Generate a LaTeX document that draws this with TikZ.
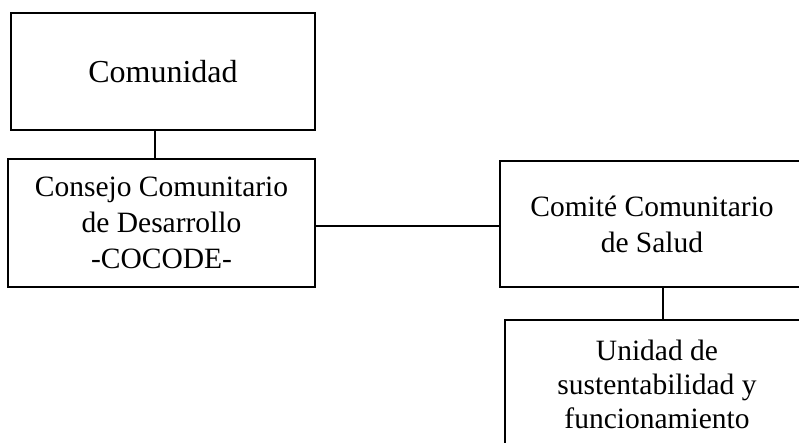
\documentclass[tikz,border=0pt]{standalone}
\usepackage{fontspec}
\setmainfont{Liberation Serif}
\begin{document}
\begin{tikzpicture}[x=1pt,y=-1pt,
  orgbox/.style={draw=black, line width=1.8pt, rectangle, inner sep=0pt, align=center,
    font=\fontsize{29.5}{36}\selectfont},
  link/.style={draw=black, line width=1.8pt}]
\useasboundingbox (0,0) rectangle (799,443);
\clip (0,0) rectangle (799,443);
\node[orgbox, minimum width=304pt, minimum height=117pt, font=\fontsize{32}{38}\selectfont] (comunidad) at (163,71.5) {Comunidad};
\node[orgbox, minimum width=307pt, minimum height=128pt] (consejo) at (161.5,223) {Consejo Comunitario\\de Desarrollo\\-COCODE-};
\node[orgbox, minimum width=304pt, minimum height=126pt] (comite) at (652,224) {Comité Comunitario\\de Salud};
\node[orgbox, minimum width=304pt, minimum height=128pt, font=\fontsize{29.5}{34}\selectfont] (unidad) at (657,384) {Unidad de\\sustentabilidad y\\funcionamiento};
\draw[link] ([xshift=-8pt]comunidad.south) -- ([xshift=-8pt]comunidad.south |- consejo.north);
\draw[link] ([yshift=-3pt]consejo.east) -- ([yshift=-3pt]consejo.east -| comite.west);
\draw[link] ([xshift=11pt]comite.south) -- ([xshift=11pt]comite.south |- unidad.north);
\end{tikzpicture}
\end{document}
